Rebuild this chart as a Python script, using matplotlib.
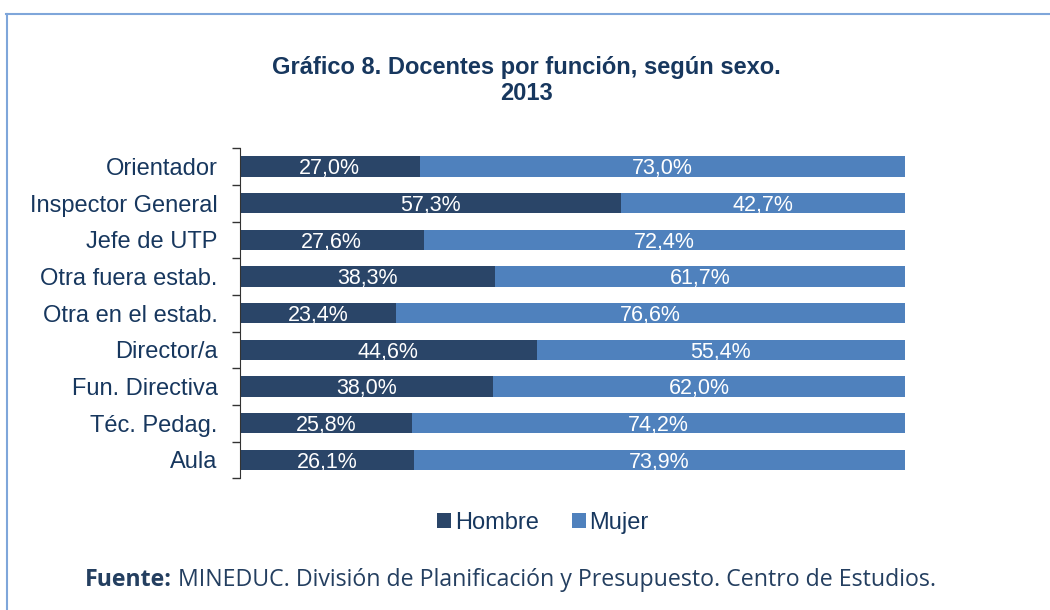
import matplotlib
matplotlib.use("Agg")
import matplotlib.pyplot as plt
from matplotlib.lines import Line2D
import numpy as np

categories = ["Orientador", "Inspector General", "Jefe de UTP", "Otra fuera estab.",
              "Otra en el estab.", "Director/a", "Fun. Directiva", "Téc. Pedag.", "Aula"]
hombre = [27.0, 57.3, 27.6, 38.3, 23.4, 44.6, 38.0, 25.8, 26.1]
mujer = [73.0, 42.7, 72.4, 61.7, 76.6, 55.4, 62.0, 74.2, 73.9]
series_names = ["Hombre", "Mujer"]

c_h = "#2A4568"
c_m = "#4F81BD"
navy = "#17375E"

plt.rcParams['font.family'] = ['Liberation Sans', 'DejaVu Sans']

fig = plt.figure(figsize=(10.5, 6.1), dpi=100)
ax = fig.add_axes([0.2286, 0.216, 0.862 - 0.2286, 0.757 - 0.216])

y = np.arange(len(categories))[::-1]
h = np.array(hombre)
m = np.array(mujer)
ax.barh(y, h, height=0.55, color=c_h, label=series_names[0])
ax.barh(y, m, left=h, height=0.55, color=c_m, label=series_names[1])

for yi, hv, mv in zip(y, h, m):
    ax.text(hv / 2, yi - 0.06, f"{hv:.1f}%".replace(".", ","), ha="center", va="center",
            color="white", fontsize=15.5)
    ax.text(hv + mv / 2, yi - 0.06, f"{mv:.1f}%".replace(".", ","), ha="center", va="center",
            color="white", fontsize=15.5)

ax.set_xlim(0, 100)
ax.set_ylim(-0.5, len(categories) - 0.5)
ax.set_yticks(y)
ax.set_yticklabels(categories, fontsize=17, color=navy)
ax.tick_params(axis="y", which="major", length=0, pad=16)
ax.set_yticks(np.arange(-0.5, len(categories), 1.0), minor=True)
ax.tick_params(axis="y", which="minor", length=6, color="#333333", width=1)
ax.set_xticks([])
for s in ["top", "right", "bottom"]:
    ax.spines[s].set_visible(False)
ax.spines["left"].set_color("#333333")

fig.text(0.501, 0.889, "Gráfico 8. Docentes por función, según sexo.", ha="center", va="center",
         fontsize=17, fontweight="bold", color=navy)
fig.text(0.501, 0.847, "2013", ha="center", va="center",
         fontsize=17, fontweight="bold", color=navy)

fig.legend(loc="center", bbox_to_anchor=(0.517, 0.143), ncol=2, frameon=False,
           fontsize=17, handlelength=0.6, handleheight=0.6, handletextpad=0.15,
           columnspacing=1.4, labelcolor=navy)

t1 = fig.text(0.081, 0.049, "Fuente:", ha="left", va="center", fontsize=16.7,
              fontweight="bold", color="#243F60", family=["Open Sans", "DejaVu Sans"])
fig.canvas.draw()
bb = t1.get_window_extent(renderer=fig.canvas.get_renderer())
x2 = (bb.x1 + 6) / fig.bbox.width
fig.text(x2, 0.049, "MINEDUC. División de Planificación y Presupuesto. Centro de Estudios.",
         ha="left", va="center", fontsize=16.7, color="#243F60", family=["Open Sans", "DejaVu Sans"])

bc = "#7FA6DA"
fig.add_artist(Line2D([0.006, 1.0], [0.977, 0.977], color=bc, lw=1.5, transform=fig.transFigure))
fig.add_artist(Line2D([0.007, 0.007], [0.0, 0.977], color=bc, lw=1.5, transform=fig.transFigure))

fig.savefig("out.png", dpi=100)
